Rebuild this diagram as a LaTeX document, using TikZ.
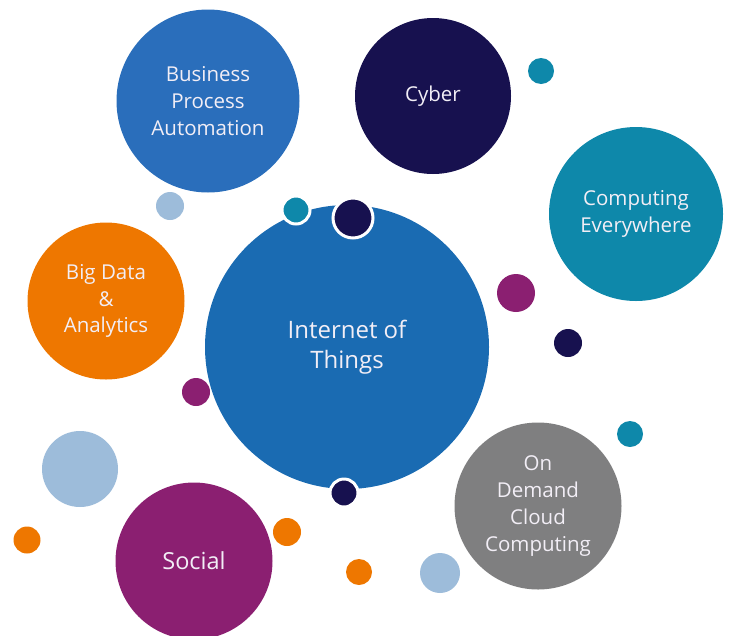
\documentclass[tikz,border=0pt]{standalone}
\usepackage{fontspec}
\setmainfont{Open Sans}
\definecolor{iotblue}{HTML}{1A6BB2}
\definecolor{bizblue}{HTML}{2A6EBB}
\definecolor{navy}{HTML}{17114F}
\definecolor{teal}{HTML}{0E88AA}
\definecolor{orng}{HTML}{EE7700}
\definecolor{cloudgray}{HTML}{7F7F80}
\definecolor{plum}{HTML}{8B1F71}
\definecolor{paleblue}{HTML}{9DBCDA}
\definecolor{labelwhite}{HTML}{F2EEF6}
\begin{document}
\begin{tikzpicture}[x=1pt,y=-1pt,
  bubble/.style={circle, inner sep=0pt, draw=none, text=labelwhite, align=center},
  label21/.style={font=\fontsize{20.5}{26.7}\selectfont},
  dot/.style={circle, inner sep=0pt, draw=none},
  ringed/.style={draw=white, line width=3pt}]
\useasboundingbox (0,0) rectangle (735,635);
% large topic bubbles
\node[bubble, fill=iotblue, minimum size=284pt, font=\fontsize{24}{30}\selectfont] (iot) at (347,347) {Internet of\\Things};
\node[bubble, fill=bizblue, minimum size=183pt, label21] (bpa) at (208,101) {Business\\Process\\Automation};
\node[bubble, fill=navy, minimum size=156pt, label21] (cyber) at (433,96) {Cyber};
\node[bubble, fill=teal, minimum size=174pt, label21] (comp) at (636,214) {Computing\\Everywhere};
\node[bubble, fill=orng, minimum size=157pt, label21] (bigdata) at (106,301) {Big Data\\\&\\Analytics};
\node[bubble, fill=cloudgray, minimum size=167pt, label21] (cloud) at (538,506) {On\\Demand\\Cloud\\Computing};
\node[bubble, fill=plum, minimum size=157pt, font=\fontsize{23.5}{30}\selectfont] (social) at (194,561) {Social};
% small accent dots
\node[dot, fill=teal, minimum size=26pt] (d1) at (541,71) {};
\node[dot, fill=paleblue, minimum size=28pt] (d2) at (170,206) {};
\node[dot, fill=teal, minimum size=28pt, ringed] (d3) at (296,210) {};
\node[dot, fill=navy, minimum size=40pt, ringed] (d4) at (353,218) {};
\node[dot, fill=plum, minimum size=38pt] (d5) at (516,293) {};
\node[dot, fill=navy, minimum size=28pt] (d6) at (568,343) {};
\node[dot, fill=plum, minimum size=28pt] (d7) at (196,392) {};
\node[dot, fill=teal, minimum size=26pt] (d8) at (630,434) {};
\node[dot, fill=paleblue, minimum size=76pt] (d9) at (80,469) {};
\node[dot, fill=navy, minimum size=28pt, ringed] (d10) at (344,493) {};
\node[dot, fill=orng, minimum size=27pt] (d11) at (27,540) {};
\node[dot, fill=orng, minimum size=28pt] (d12) at (287,532) {};
\node[dot, fill=orng, minimum size=26pt] (d13) at (359,572) {};
\node[dot, fill=paleblue, minimum size=40pt] (d14) at (440,573) {};
\end{tikzpicture}
\end{document}
